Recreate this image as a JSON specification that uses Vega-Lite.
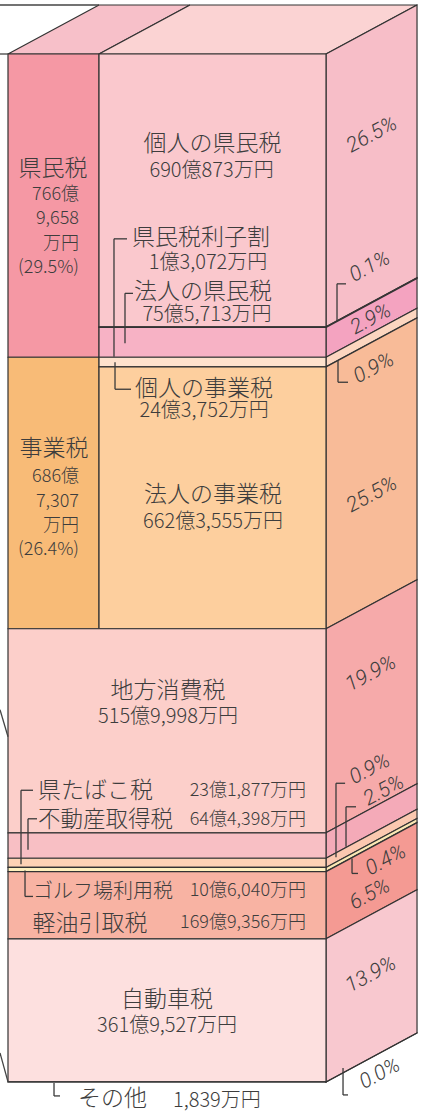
{
"$schema":"https://vega.github.io/schema/vega-lite/v6.json",
"width":421,"height":1113,"padding":0,"autosize":{"type":"none"},"background":"#ffffff",
"config":{"view":{"stroke":null},"axis":{"disable":true,"domain":false,"ticks":false,"labels":false,"grid":false},"legend":{"disable":true},"text":{"font":"Noto Sans CJK JP","color":"#3d3d3d","fontWeight":300},"rule":{"color":"#3a3a3a","strokeWidth":1.3}},
"datasets":{
 "items":[
  {"order":1,"group":"県民税","item":"個人の県民税","amount":690.0873,"label":"690億873万円","pct":"26.5%"},
  {"order":2,"group":"県民税","item":"県民税利子割","amount":1.3072,"label":"1億3,072万円","pct":"0.1%"},
  {"order":3,"group":"県民税","item":"法人の県民税","amount":75.5713,"label":"75億5,713万円","pct":"2.9%"},
  {"order":4,"group":"事業税","item":"個人の事業税","amount":24.3752,"label":"24億3,752万円","pct":"0.9%"},
  {"order":5,"group":"事業税","item":"法人の事業税","amount":662.3555,"label":"662億3,555万円","pct":"25.5%"},
  {"order":6,"group":"その他の税","item":"地方消費税","amount":515.9998,"label":"515億9,998万円","pct":"19.9%"},
  {"order":7,"group":"その他の税","item":"不動産取得税","amount":64.4398,"label":"64億4,398万円","pct":"2.5%"},
  {"order":8,"group":"その他の税","item":"県たばこ税","amount":23.1877,"label":"23億1,877万円","pct":"0.9%"},
  {"order":9,"group":"その他の税","item":"ゴルフ場利用税","amount":10.604,"label":"10億6,040万円","pct":"0.4%"},
  {"order":10,"group":"その他の税","item":"軽油引取税","amount":169.9356,"label":"169億9,356万円","pct":"6.5%"},
  {"order":11,"group":"その他の税","item":"自動車税","amount":361.9527,"label":"361億9,527万円","pct":"13.9%"},
  {"order":12,"group":"その他の税","item":"その他","amount":0.1839,"label":"1,839万円","pct":"0.0%"}
 ],
 "groups":[
  {"group":"県民税","lines":["766億","9,658","万円","(29.5%)"]},
  {"group":"事業税","lines":["686億","7,307","万円","(26.4%)"]}
 ]
},
"data":{"name":"items"},
"transform":[{"stack":"amount","groupby":[],"sort":[{"field":"order","order":"ascending"}],"as":["y0","y1"]}],
"resolve":{"scale":{"fill":"independent"}},
"layer":[
 {"transform":[{"filter":"datum.order == 1"},{"fold":["y0","y1"],"as":["edge","ev"]},{"calculate":"datum.edge == 'y0' ? datum.y0 : datum.y0 - 123.93","as":"ty"},{"calculate":"datum.edge == 'y0' ? 0 : 28.62","as":"tx"},{"calculate":"datum.edge == 'y0' ? 28.62 : 57.23","as":"tx2"}],
  "mark":{"type":"area","orient":"horizontal","fill":"#f7c0c9","stroke":"#333333","strokeWidth":1.2,"opacity":1},
  "encoding":{"x":{"field":"tx","type":"quantitative","scale":{"domain":[-2.516,129.87],"nice":false,"zero":false}},"x2":{"field":"tx2"},"y":{"field":"ty","type":"quantitative","scale":{"domain":[-136.57,2678.4],"reverse":true,"nice":false,"zero":false}}}},
 {"transform":[{"filter":"datum.order == 1"},{"fold":["y0","y1"],"as":["edge","ev"]},{"calculate":"datum.edge == 'y0' ? datum.y0 : datum.y0 - 123.93","as":"ty"},{"calculate":"datum.edge == 'y0' ? 28.62 : 57.23","as":"tx"},{"calculate":"datum.edge == 'y0' ? 100 : 128.62","as":"tx2"}],
  "mark":{"type":"area","orient":"horizontal","fill":"#fbd3d3","stroke":"#333333","strokeWidth":1.2,"opacity":1},
  "encoding":{"x":{"field":"tx","type":"quantitative"},"x2":{"field":"tx2"},"y":{"field":"ty","type":"quantitative"}}},
 {"transform":[{"fold":["y0","y1"],"as":["edge","ev"]},{"calculate":"datum.edge == 'y0' ? 100 : 128.62","as":"sx"},{"calculate":"datum.edge == 'y0' ? datum.y0 : datum.y0 - 123.93","as":"st"},{"calculate":"datum.edge == 'y0' ? datum.y1 : datum.y1 - 123.93","as":"sb"}],
  "mark":{"type":"area","orient":"vertical","stroke":"#333333","strokeWidth":1.2,"opacity":1},
  "encoding":{"x":{"field":"sx","type":"quantitative"},"y":{"field":"st","type":"quantitative"},"y2":{"field":"sb"},"detail":{"field":"item"},
   "fill":{"field":"item","type":"nominal","legend":null,"scale":{"domain":["個人の県民税","県民税利子割","法人の県民税","個人の事業税","法人の事業税","地方消費税","不動産取得税","県たばこ税","ゴルフ場利用税","軽油引取税","自動車税","その他"],"range":["#f7bec8","#f4a3c0","#f4a3c0","#fcd6c0","#f8bb98","#f6aaaa","#f4aab8","#fbc8b0","#fbe8b4","#f49a93","#f8c8cf","#f8c8cf"]}}}},
 {"transform":[{"aggregate":[{"op":"min","field":"y0","as":"gy0"},{"op":"max","field":"y1","as":"gy1"}],"groupby":["group"]},{"filter":"datum.group != 'その他の税'"}],
  "mark":{"type":"rect","stroke":"#333333","strokeWidth":1.2},
  "encoding":{"x":{"datum":0,"type":"quantitative"},"x2":{"datum":28.62},"y":{"field":"gy0","type":"quantitative"},"y2":{"field":"gy1"},
   "fill":{"field":"group","type":"nominal","legend":null,"scale":{"domain":["県民税","事業税"],"range":["#f598a4","#f8bb77"]}}}},
 {"transform":[{"filter":"datum.group != 'その他の税'"}],
  "mark":{"type":"rect","stroke":"#333333","strokeWidth":1.2},
  "encoding":{"x":{"datum":28.62,"type":"quantitative"},"x2":{"datum":100},"y":{"field":"y0","type":"quantitative"},"y2":{"field":"y1"},
   "fill":{"field":"item","type":"nominal","legend":null,"scale":{"domain":["個人の県民税","県民税利子割","法人の県民税","個人の事業税","法人の事業税"],"range":["#fac8cd","#f7b2c5","#f7b2c5","#fee2cd","#fdcf9e"]}}}},
 {"transform":[{"filter":"datum.group == 'その他の税'"}],
  "mark":{"type":"rect","stroke":"#333333","strokeWidth":1.2},
  "encoding":{"x":{"datum":0,"type":"quantitative"},"x2":{"datum":100},"y":{"field":"y0","type":"quantitative"},"y2":{"field":"y1"},
   "fill":{"field":"item","type":"nominal","legend":null,"scale":{"domain":["地方消費税","不動産取得税","県たばこ税","ゴルフ場利用税","軽油引取税","自動車税","その他"],"range":["#fccfca","#f8bfc4","#fdd2b5","#fef0be","#f8b3a3","#fde0df","#fde0df"]}}}},

 {"transform":[{"filter":"datum.order == 1"}],"mark":{"type":"rule","color":"#444444"},"encoding":{"x":{"datum":-3},"x2":{"datum":0},"y":{"field":"y0","type":"quantitative"}}},
 {"transform":[{"filter":"datum.order == 1"}],"mark":{"type":"rule","color":"#444444","yOffset":-49},"encoding":{"x":{"datum":-3},"x2":{"datum":28.62},"y":{"field":"y0","type":"quantitative"}}},
 {"transform":[{"filter":"datum.order == 6"}],"mark":{"type":"rule","color":"#444444","yOffset":81,"y2Offset":108},"encoding":{"x":{"datum":-2.516},"x2":{"datum":0},"y":{"field":"y0","type":"quantitative"},"y2":{"field":"y0"}}},
 {"transform":[{"filter":"datum.order == 12"}],"mark":{"type":"rule","color":"#444444","yOffset":-29,"y2Offset":0},"encoding":{"x":{"datum":-2.516},"x2":{"datum":0},"y":{"field":"y0","type":"quantitative"},"y2":{"field":"y0"}}},

 {"transform":[{"filter":"datum.order == 2"}],"mark":{"type":"rule","yOffset":-88,"y2Offset":30},"encoding":{"x":{"datum":33.33},"y":{"field":"y0","type":"quantitative"},"y2":{"field":"y0"}}},
 {"transform":[{"filter":"datum.order == 2"}],"mark":{"type":"rule","yOffset":-88},"encoding":{"x":{"datum":33.33},"x2":{"datum":37.42},"y":{"field":"y0","type":"quantitative"}}},
 {"transform":[{"filter":"datum.order == 3"}],"mark":{"type":"rule","yOffset":-34,"y2Offset":16},"encoding":{"x":{"datum":36.79},"y":{"field":"y0","type":"quantitative"},"y2":{"field":"y0"}}},
 {"transform":[{"filter":"datum.order == 3"}],"mark":{"type":"rule","yOffset":-34},"encoding":{"x":{"datum":36.79},"x2":{"datum":39.31},"y":{"field":"y0","type":"quantitative"}}},
 {"transform":[{"filter":"datum.order == 4"}],"mark":{"type":"rule","yOffset":5,"y2Offset":32},"encoding":{"x":{"datum":33.65},"y":{"field":"y0","type":"quantitative"},"y2":{"field":"y0"}}},
 {"transform":[{"filter":"datum.order == 4"}],"mark":{"type":"rule","yOffset":32},"encoding":{"x":{"datum":33.65},"x2":{"datum":38.68},"y":{"field":"y0","type":"quantitative"}}},
 {"transform":[{"filter":"datum.order == 8"}],"mark":{"type":"rule","yOffset":-68,"y2Offset":6},"encoding":{"x":{"datum":4.09},"y":{"field":"y0","type":"quantitative"},"y2":{"field":"y0"}}},
 {"transform":[{"filter":"datum.order == 8"}],"mark":{"type":"rule","yOffset":-68},"encoding":{"x":{"datum":4.09},"x2":{"datum":7.86},"y":{"field":"y0","type":"quantitative"}}},
 {"transform":[{"filter":"datum.order == 7"}],"mark":{"type":"rule","yOffset":-14,"y2Offset":17},"encoding":{"x":{"datum":6.29},"y":{"field":"y0","type":"quantitative"},"y2":{"field":"y0"}}},
 {"transform":[{"filter":"datum.order == 7"}],"mark":{"type":"rule","yOffset":-14},"encoding":{"x":{"datum":6.29},"x2":{"datum":9.12},"y":{"field":"y0","type":"quantitative"}}},
 {"transform":[{"filter":"datum.order == 9"}],"mark":{"type":"rule","yOffset":3,"y2Offset":29},"encoding":{"x":{"datum":5.35},"y":{"field":"y0","type":"quantitative"},"y2":{"field":"y0"}}},
 {"transform":[{"filter":"datum.order == 9"}],"mark":{"type":"rule","yOffset":29},"encoding":{"x":{"datum":5.35},"x2":{"datum":7.86},"y":{"field":"y0","type":"quantitative"}}},
 {"transform":[{"filter":"datum.order == 12"}],"mark":{"type":"rule","yOffset":1,"y2Offset":14},"encoding":{"x":{"datum":14.47},"y":{"field":"y0","type":"quantitative"},"y2":{"field":"y0"}}},
 {"transform":[{"filter":"datum.order == 12"}],"mark":{"type":"rule","yOffset":14},"encoding":{"x":{"datum":14.47},"x2":{"datum":16.35},"y":{"field":"y0","type":"quantitative"}}},

 {"transform":[{"filter":"datum.order == 2"}],"mark":{"type":"rule","yOffset":-43,"y2Offset":-6},"encoding":{"x":{"datum":103.46},"y":{"field":"y0","type":"quantitative"},"y2":{"field":"y0"}}},
 {"transform":[{"filter":"datum.order == 2"}],"mark":{"type":"rule","yOffset":-43},"encoding":{"x":{"datum":103.46},"x2":{"datum":106.29},"y":{"field":"y0","type":"quantitative"}}},
 {"transform":[{"filter":"datum.order == 4"}],"mark":{"type":"rule","yOffset":3,"y2Offset":25},"encoding":{"x":{"datum":103.77},"y":{"field":"y0","type":"quantitative"},"y2":{"field":"y0"}}},
 {"transform":[{"filter":"datum.order == 4"}],"mark":{"type":"rule","yOffset":25},"encoding":{"x":{"datum":103.77},"x2":{"datum":106.92},"y":{"field":"y0","type":"quantitative"}}},
 {"transform":[{"filter":"datum.order == 8"}],"mark":{"type":"rule","yOffset":-75,"y2Offset":-1},"encoding":{"x":{"datum":103.14},"y":{"field":"y0","type":"quantitative"},"y2":{"field":"y0"}}},
 {"transform":[{"filter":"datum.order == 8"}],"mark":{"type":"rule","yOffset":-75},"encoding":{"x":{"datum":103.14},"x2":{"datum":106.0},"y":{"field":"y0","type":"quantitative"}}},
 {"transform":[{"filter":"datum.order == 7"}],"mark":{"type":"rule","yOffset":-26,"y2Offset":14},"encoding":{"x":{"datum":106.29},"y":{"field":"y0","type":"quantitative"},"y2":{"field":"y0"}}},
 {"transform":[{"filter":"datum.order == 7"}],"mark":{"type":"rule","yOffset":-26},"encoding":{"x":{"datum":106.29},"x2":{"datum":109.43},"y":{"field":"y0","type":"quantitative"}}},
 {"transform":[{"filter":"datum.order == 9"}],"mark":{"type":"rule","yOffset":-9,"y2Offset":6},"encoding":{"x":{"datum":108.18},"y":{"field":"y0","type":"quantitative"},"y2":{"field":"y0"}}},
 {"transform":[{"filter":"datum.order == 9"}],"mark":{"type":"rule","yOffset":6},"encoding":{"x":{"datum":108.18},"x2":{"datum":110.06},"y":{"field":"y0","type":"quantitative"}}},
 {"transform":[{"filter":"datum.order == 12"}],"mark":{"type":"rule","yOffset":-14,"y2Offset":13},"encoding":{"x":{"datum":105.35},"y":{"field":"y0","type":"quantitative"},"y2":{"field":"y0"}}},
 {"transform":[{"filter":"datum.order == 12"}],"mark":{"type":"rule","yOffset":13},"encoding":{"x":{"datum":105.35},"x2":{"datum":106.92},"y":{"field":"y0","type":"quantitative"}}},

 {"transform":[{"aggregate":[{"op":"min","field":"y0","as":"gy0"}],"groupby":["group"]},{"filter":"datum.group == '県民税'"}],
  "mark":{"type":"text","fontSize":23,"align":"center","baseline":"middle","yOffset":115},"encoding":{"x":{"datum":14.15},"y":{"field":"gy0","type":"quantitative"},"text":{"field":"group"}}},
 {"transform":[{"aggregate":[{"op":"min","field":"y0","as":"gy0"}],"groupby":["group"]},{"filter":"datum.group == '県民税'"},{"lookup":"group","from":{"data":{"name":"groups"},"key":"group","fields":["lines"]}}],
  "mark":{"type":"text","fontSize":18,"align":"right","baseline":"top","lineHeight":24.3,"yOffset":132},"encoding":{"x":{"datum":22.33},"y":{"field":"gy0","type":"quantitative"},"text":{"field":"lines"}}},
 {"transform":[{"aggregate":[{"op":"min","field":"y0","as":"gy0"}],"groupby":["group"]},{"filter":"datum.group == '事業税'"}],
  "mark":{"type":"text","fontSize":23,"align":"center","baseline":"middle","yOffset":92},"encoding":{"x":{"datum":14.47},"y":{"field":"gy0","type":"quantitative"},"text":{"field":"group"}}},
 {"transform":[{"aggregate":[{"op":"min","field":"y0","as":"gy0"}],"groupby":["group"]},{"filter":"datum.group == '事業税'"},{"lookup":"group","from":{"data":{"name":"groups"},"key":"group","fields":["lines"]}}],
  "mark":{"type":"text","fontSize":18,"align":"right","baseline":"top","lineHeight":24.3,"yOffset":111},"encoding":{"x":{"datum":22.33},"y":{"field":"gy0","type":"quantitative"},"text":{"field":"lines"}}},

 {"transform":[{"filter":"datum.order == 1"}],"mark":{"type":"text","fontSize":23,"align":"center","baseline":"middle","yOffset":90.5},"encoding":{"x":{"datum":64.3},"y":{"field":"y0","type":"quantitative"},"text":{"field":"item"}}},
 {"transform":[{"filter":"datum.order == 2"}],"mark":{"type":"text","fontSize":23,"align":"left","baseline":"middle","yOffset":-88.4},"encoding":{"x":{"datum":38.99},"y":{"field":"y0","type":"quantitative"},"text":{"field":"item"}}},
 {"transform":[{"filter":"datum.order == 3"}],"mark":{"type":"text","fontSize":23,"align":"left","baseline":"middle","yOffset":-34.9},"encoding":{"x":{"datum":39.62},"y":{"field":"y0","type":"quantitative"},"text":{"field":"item"}}},
 {"transform":[{"filter":"datum.order == 4"}],"mark":{"type":"text","fontSize":23,"align":"left","baseline":"middle","yOffset":31.3},"encoding":{"x":{"datum":39.94},"y":{"field":"y0","type":"quantitative"},"text":{"field":"item"}}},
 {"transform":[{"filter":"datum.order == 5"}],"mark":{"type":"text","fontSize":23,"align":"center","baseline":"middle","yOffset":128.6},"encoding":{"x":{"datum":64.47},"y":{"field":"y0","type":"quantitative"},"text":{"field":"item"}}},
 {"transform":[{"filter":"datum.order == 6"}],"mark":{"type":"text","fontSize":23,"align":"center","baseline":"middle","yOffset":62.7},"encoding":{"x":{"datum":50.3},"y":{"field":"y0","type":"quantitative"},"text":{"field":"item"}}},
 {"transform":[{"filter":"datum.order == 7"}],"mark":{"type":"text","fontSize":22.5,"align":"left","baseline":"middle","yOffset":-12.3},"encoding":{"x":{"datum":9.43},"y":{"field":"y0","type":"quantitative"},"text":{"field":"item"}}},
 {"transform":[{"filter":"datum.order == 8"}],"mark":{"type":"text","fontSize":23,"align":"left","baseline":"middle","yOffset":-66.8},"encoding":{"x":{"datum":9.43},"y":{"field":"y0","type":"quantitative"},"text":{"field":"item"}}},
 {"transform":[{"filter":"datum.order == 9"}],"mark":{"type":"text","fontSize":20,"align":"left","baseline":"middle","yOffset":24.1},"encoding":{"x":{"datum":7.86},"y":{"field":"y0","type":"quantitative"},"text":{"field":"item"}}},
 {"transform":[{"filter":"datum.order == 10"}],"mark":{"type":"text","fontSize":23,"align":"center","baseline":"middle","yOffset":51.9},"encoding":{"x":{"datum":25.79},"y":{"field":"y0","type":"quantitative"},"text":{"field":"item"}}},
 {"transform":[{"filter":"datum.order == 11"}],"mark":{"type":"text","fontSize":23,"align":"center","baseline":"middle","yOffset":60.7},"encoding":{"x":{"datum":50},"y":{"field":"y0","type":"quantitative"},"text":{"field":"item"}}},
 {"transform":[{"filter":"datum.order == 12"}],"mark":{"type":"text","fontSize":23,"align":"left","baseline":"middle","yOffset":17.5},"encoding":{"x":{"datum":22.01},"y":{"field":"y0","type":"quantitative"},"text":{"field":"item"}}},

 {"transform":[{"filter":"datum.order == 1"}],"mark":{"type":"text","fontSize":20,"align":"center","baseline":"middle","yOffset":117},"encoding":{"x":{"datum":64.0},"y":{"field":"y0","type":"quantitative"},"text":{"field":"label"}}},
 {"transform":[{"filter":"datum.order == 2"}],"mark":{"type":"text","fontSize":20,"align":"center","baseline":"middle","yOffset":-63.9},"encoding":{"x":{"datum":62.9},"y":{"field":"y0","type":"quantitative"},"text":{"field":"label"}}},
 {"transform":[{"filter":"datum.order == 3"}],"mark":{"type":"text","fontSize":20,"align":"center","baseline":"middle","yOffset":-12.4},"encoding":{"x":{"datum":62.58},"y":{"field":"y0","type":"quantitative"},"text":{"field":"label"}}},
 {"transform":[{"filter":"datum.order == 4"}],"mark":{"type":"text","fontSize":20,"align":"center","baseline":"middle","yOffset":53.8},"encoding":{"x":{"datum":61.64},"y":{"field":"y0","type":"quantitative"},"text":{"field":"label"}}},
 {"transform":[{"filter":"datum.order == 5"}],"mark":{"type":"text","fontSize":20,"align":"center","baseline":"middle","yOffset":155.1},"encoding":{"x":{"datum":64.47},"y":{"field":"y0","type":"quantitative"},"text":{"field":"label"}}},
 {"transform":[{"filter":"datum.order == 6"}],"mark":{"type":"text","fontSize":20,"align":"center","baseline":"middle","yOffset":88.2},"encoding":{"x":{"datum":50.3},"y":{"field":"y0","type":"quantitative"},"text":{"field":"label"}}},
 {"transform":[{"filter":"datum.order == 7"}],"mark":{"type":"text","fontSize":18,"align":"right","baseline":"middle","yOffset":-12.8},"encoding":{"x":{"datum":93.71},"y":{"field":"y0","type":"quantitative"},"text":{"field":"label"}}},
 {"transform":[{"filter":"datum.order == 8"}],"mark":{"type":"text","fontSize":18,"align":"right","baseline":"middle","yOffset":-67.3},"encoding":{"x":{"datum":93.71},"y":{"field":"y0","type":"quantitative"},"text":{"field":"label"}}},
 {"transform":[{"filter":"datum.order == 9"}],"mark":{"type":"text","fontSize":18,"align":"right","baseline":"middle","yOffset":23.6},"encoding":{"x":{"datum":93.71},"y":{"field":"y0","type":"quantitative"},"text":{"field":"label"}}},
 {"transform":[{"filter":"datum.order == 10"}],"mark":{"type":"text","fontSize":18,"align":"right","baseline":"middle","yOffset":51.4},"encoding":{"x":{"datum":93.71},"y":{"field":"y0","type":"quantitative"},"text":{"field":"label"}}},
 {"transform":[{"filter":"datum.order == 11"}],"mark":{"type":"text","fontSize":20,"align":"center","baseline":"middle","yOffset":87.2},"encoding":{"x":{"datum":50},"y":{"field":"y0","type":"quantitative"},"text":{"field":"label"}}},
 {"transform":[{"filter":"datum.order == 12"}],"mark":{"type":"text","fontSize":20,"align":"left","baseline":"middle","yOffset":19},"encoding":{"x":{"datum":51.89},"y":{"field":"y0","type":"quantitative"},"text":{"field":"label"}}},

 {"transform":[{"filter":"datum.order == 1"}],"mark":{"type":"text","font":"Roboto, Liberation Sans","fontStyle":"italic","fontWeight":300,"fontSize":21,"angle":-28,"align":"center","baseline":"middle","yOffset":81},"encoding":{"x":{"datum":114.47},"y":{"field":"y0","type":"quantitative"},"text":{"field":"pct"}}},
 {"transform":[{"filter":"datum.order == 2"}],"mark":{"type":"text","font":"Roboto, Liberation Sans","fontStyle":"italic","fontWeight":300,"fontSize":21,"angle":-28,"align":"center","baseline":"middle","yOffset":-60},"encoding":{"x":{"datum":113.84},"y":{"field":"y0","type":"quantitative"},"text":{"field":"pct"}}},
 {"transform":[{"filter":"datum.order == 3"}],"mark":{"type":"text","font":"Roboto, Liberation Sans","fontStyle":"italic","fontWeight":300,"fontSize":21,"angle":-28,"align":"center","baseline":"middle","yOffset":-8},"encoding":{"x":{"datum":114.15},"y":{"field":"y0","type":"quantitative"},"text":{"field":"pct"}}},
 {"transform":[{"filter":"datum.order == 4"}],"mark":{"type":"text","font":"Roboto, Liberation Sans","fontStyle":"italic","fontWeight":300,"fontSize":21,"angle":-28,"align":"center","baseline":"middle","yOffset":11},"encoding":{"x":{"datum":115.09},"y":{"field":"y0","type":"quantitative"},"text":{"field":"pct"}}},
 {"transform":[{"filter":"datum.order == 5"}],"mark":{"type":"text","font":"Roboto, Liberation Sans","fontStyle":"italic","fontWeight":300,"fontSize":21,"angle":-28,"align":"center","baseline":"middle","yOffset":128},"encoding":{"x":{"datum":114.47},"y":{"field":"y0","type":"quantitative"},"text":{"field":"pct"}}},
 {"transform":[{"filter":"datum.order == 6"}],"mark":{"type":"text","font":"Roboto, Liberation Sans","fontStyle":"italic","fontWeight":300,"fontSize":21,"angle":-28,"align":"center","baseline":"middle","yOffset":45},"encoding":{"x":{"datum":114.15},"y":{"field":"y0","type":"quantitative"},"text":{"field":"pct"}}},
 {"transform":[{"filter":"datum.order == 7"}],"mark":{"type":"text","font":"Roboto, Liberation Sans","fontStyle":"italic","fontWeight":300,"fontSize":21,"angle":-28,"align":"center","baseline":"middle","yOffset":-42},"encoding":{"x":{"datum":118.24},"y":{"field":"y0","type":"quantitative"},"text":{"field":"pct"}}},
 {"transform":[{"filter":"datum.order == 8"}],"mark":{"type":"text","font":"Roboto, Liberation Sans","fontStyle":"italic","fontWeight":300,"fontSize":21,"angle":-28,"align":"center","baseline":"middle","yOffset":-89},"encoding":{"x":{"datum":113.84},"y":{"field":"y0","type":"quantitative"},"text":{"field":"pct"}}},
 {"transform":[{"filter":"datum.order == 9"}],"mark":{"type":"text","font":"Roboto, Liberation Sans","fontStyle":"italic","fontWeight":300,"fontSize":21,"angle":-28,"align":"center","baseline":"middle","yOffset":-7},"encoding":{"x":{"datum":118.87},"y":{"field":"y0","type":"quantitative"},"text":{"field":"pct"}}},
 {"transform":[{"filter":"datum.order == 10"}],"mark":{"type":"text","font":"Roboto, Liberation Sans","fontStyle":"italic","fontWeight":300,"fontSize":21,"angle":-28,"align":"center","baseline":"middle","yOffset":23},"encoding":{"x":{"datum":113.84},"y":{"field":"y0","type":"quantitative"},"text":{"field":"pct"}}},
 {"transform":[{"filter":"datum.order == 11"}],"mark":{"type":"text","font":"Roboto, Liberation Sans","fontStyle":"italic","fontWeight":300,"fontSize":21,"angle":-28,"align":"center","baseline":"middle","yOffset":36},"encoding":{"x":{"datum":114.15},"y":{"field":"y0","type":"quantitative"},"text":{"field":"pct"}}},
 {"transform":[{"filter":"datum.order == 12"}],"mark":{"type":"text","font":"Roboto, Liberation Sans","fontStyle":"italic","fontWeight":300,"fontSize":21,"angle":-28,"align":"center","baseline":"middle","yOffset":-8},"encoding":{"x":{"datum":116.98},"y":{"field":"y0","type":"quantitative"},"text":{"field":"pct"}}}
]
}
